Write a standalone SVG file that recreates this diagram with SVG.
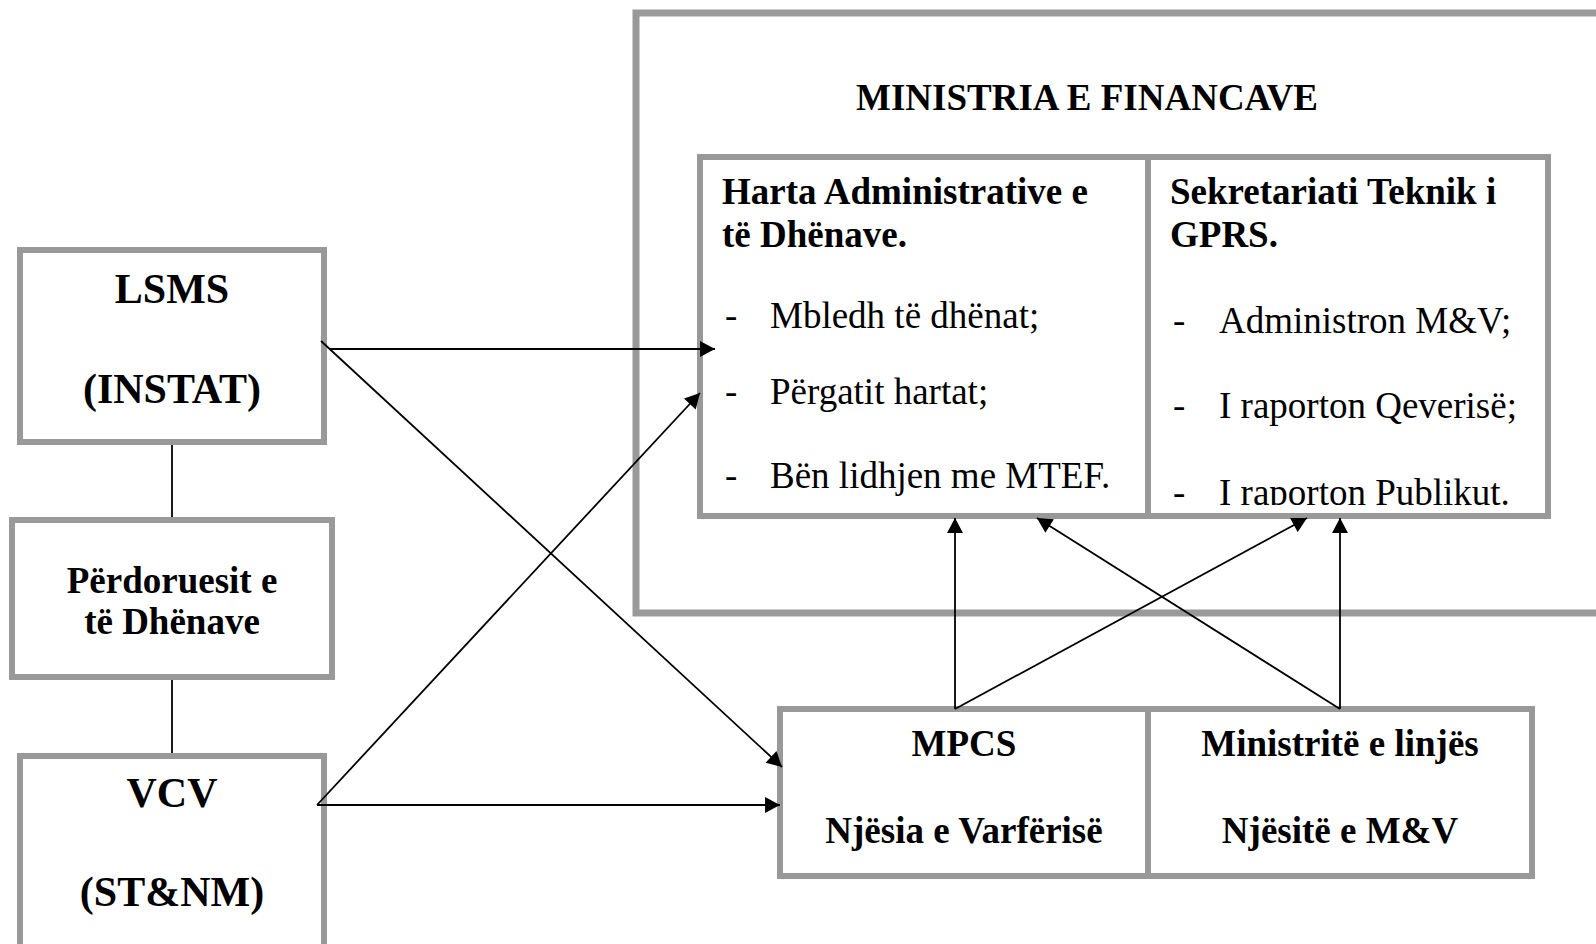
<svg xmlns="http://www.w3.org/2000/svg" width="1596" height="944" viewBox="0 0 1596 944">
<defs>
<style>
.box{fill:#fff;stroke:#999;stroke-width:6}
.div{stroke:#999;stroke-width:6}
.b{font-family:"Liberation Serif","Times New Roman",serif;font-weight:bold;fill:#000}
.r{font-family:"Liberation Serif","Times New Roman",serif;fill:#000}
.big{font-size:42px}
.med{font-size:37px}
.c{text-anchor:middle}
.ln{stroke:#000;stroke-width:1.8;fill:none}
.arr{stroke:#000;stroke-width:1.8;fill:none;marker-end:url(#ah)}
</style>
<marker id="ah" markerUnits="userSpaceOnUse" markerWidth="16" markerHeight="16" viewBox="0 0 14 15" refX="14" refY="7.5" orient="auto">
<path d="M0,0 L14,7.5 L0,15 z" fill="#000"/>
</marker>
<clipPath id="clipRight"><rect x="1150" y="160" width="396" height="345"/></clipPath>
</defs>
<rect width="1596" height="944" fill="#fff"/>

<g id="ministria">
<rect class="box" x="636" y="13" width="1000" height="600" style="stroke-width:7"/>
<text class="b med c" x="1087" y="110">MINISTRIA E FINANCAVE</text>
</g>

<g id="harta-sekretariati">
<rect class="box" x="700" y="157" width="848" height="359"/>
<line class="div" x1="1148" y1="157" x2="1148" y2="516"/>
</g>

<g id="harta">
<text class="b med" x="722" y="204">Harta Administrative e</text>
<text class="b med" x="722" y="247">të Dhënave.</text>
<text class="r med" x="725" y="328">-</text>
<text class="r med" x="770" y="328">Mbledh të dhënat;</text>
<text class="r med" x="725" y="404">-</text>
<text class="r med" x="770" y="404">Përgatit hartat;</text>
<text class="r med" x="725" y="488">-</text>
<text class="r med" x="770" y="488">Bën lidhjen me MTEF.</text>
</g>

<g id="sekretariati">
<text class="b med" x="1170" y="204">Sekretariati Teknik i</text>
<text class="b med" x="1170" y="247">GPRS.</text>
<text class="r med" x="1173" y="333">-</text>
<text class="r med" x="1219" y="333">Administron M&amp;V;</text>
<text class="r med" x="1173" y="418">-</text>
<text class="r med" x="1219" y="418">I raporton Qeverisë;</text>
<g clip-path="url(#clipRight)">
<text class="r med" x="1173" y="505">-</text>
<text class="r med" x="1219" y="505">I raporton Publikut.</text>
</g>
</g>

<g id="lsms">
<rect class="box" x="20" y="250" width="304" height="192"/>
<text class="b big c" x="172" y="303">LSMS</text>
<text class="b big c" x="172" y="403">(INSTAT)</text>
</g>

<g id="perdoruesit">
<rect class="box" x="12" y="520" width="320" height="157"/>
<text class="b med c" x="172" y="593">Përdoruesit e</text>
<text class="b med c" x="172" y="634">të Dhënave</text>
</g>

<g id="vcv">
<rect class="box" x="20" y="756" width="304" height="250"/>
<text class="b big c" x="172" y="807">VCV</text>
<text class="b big c" x="172" y="906">(ST&amp;NM)</text>
</g>

<g id="mpcs-ministrite">
<rect class="box" x="780" y="709" width="752" height="167"/>
<line class="div" x1="1148" y1="709" x2="1148" y2="876"/>
</g>

<g id="mpcs">
<text class="b med c" x="964" y="756">MPCS</text>
<text class="b med c" x="964" y="843">Njësia e Varfërisë</text>
</g>

<g id="ministrite">
<text class="b med c" x="1340" y="756">Ministritë e linjës</text>
<text class="b med c" x="1340" y="843">Njësitë e M&amp;V</text>
</g>

<g id="connectors">
<line class="ln" x1="172" y1="445" x2="172" y2="517"/>
<line class="ln" x1="172" y1="680" x2="172" y2="753"/>
<path class="arr" d="M330,349 H715"/>
<path class="arr" d="M321,341 L782,767"/>
<path class="arr" d="M317,805 L700,393"/>
<path class="arr" d="M317,805 H780"/>
<path class="arr" d="M955,709 V518"/>
<path class="arr" d="M955,709 L1307,518"/>
<path class="arr" d="M1340,709 L1037,518"/>
<path class="arr" d="M1340,709 V518"/>
</g>
</svg>
